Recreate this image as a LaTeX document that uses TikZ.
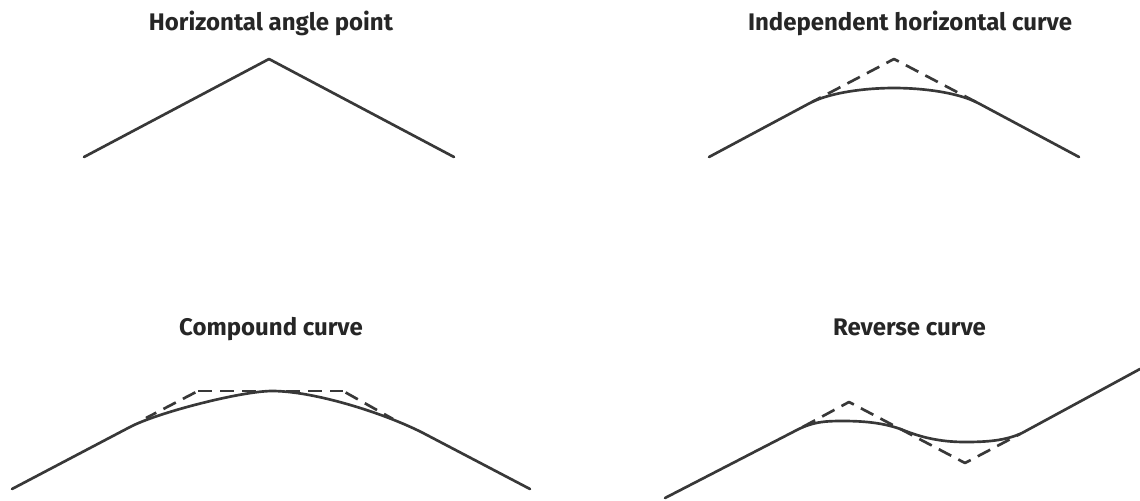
\documentclass[tikz,border=0pt]{standalone}
\usepackage{fontspec}
\setmainfont{Fira Sans}
\tikzset{
  title/.style={font=\fontsize{18bp}{20bp}\selectfont\bfseries,text=black!85,inner sep=0pt,anchor=base},
  road/.style={draw=black!78,line width=2bp,line cap=round,line join=round},
  tangent/.style={draw=black!78,line width=2bp,dash pattern=on 10.5bp off 6bp,line join=round}
}
\begin{document}
\begin{tikzpicture}[x=0.75bp,y=-0.75bp]
\useasboundingbox (0,0) rectangle (1140,500);
\node[title] (t1) at (271,30) {Horizontal angle point};
\node[title] (t2) at (910,30) {Independent horizontal curve};
\node[title] (t3) at (271,335) {Compound curve};
\node[title] (t4) at (909.5,335) {Reverse curve};
% angle point
\draw[road] (84,157) -- (269,59) -- (454,157);
% independent curve
\draw[tangent,dash phase=3bp] (812,102) -- (894,59) -- (976,102);
\draw[road] (709,157) -- (810,103) .. controls (830,92.5) and (865,88) .. (894,88)
  .. controls (923,88) and (958,92.5) .. (978,103) -- (1079,157);
% compound curve
\draw[tangent] (198,391) -- (343,391);
\draw[tangent,dash phase=14.25bp] (198,391) -- (146,418);
\draw[tangent,dash phase=14.25bp] (343,391) -- (393,419);
\draw[road] (12,489) -- (130,427) .. controls (158,412.3) and (242,391) .. (272,391)
  .. controls (315,391) and (387,414) .. (425,434) -- (530,489);
% reverse curve
\draw[tangent,dash phase=11.6bp] (797,430) -- (849,402) -- (965,463) -- (1020,434);
\draw[road] (665,498) -- (793,432) .. controls (812,421.5) and (825,421) .. (843,421)
  .. controls (865,421) and (885,423) .. (903,430)
  .. controls (925,439) and (945,442) .. (965,442)
  .. controls (985,442) and (1005,441) .. (1022,433) -- (1140,369);
\end{tikzpicture}
\end{document}
